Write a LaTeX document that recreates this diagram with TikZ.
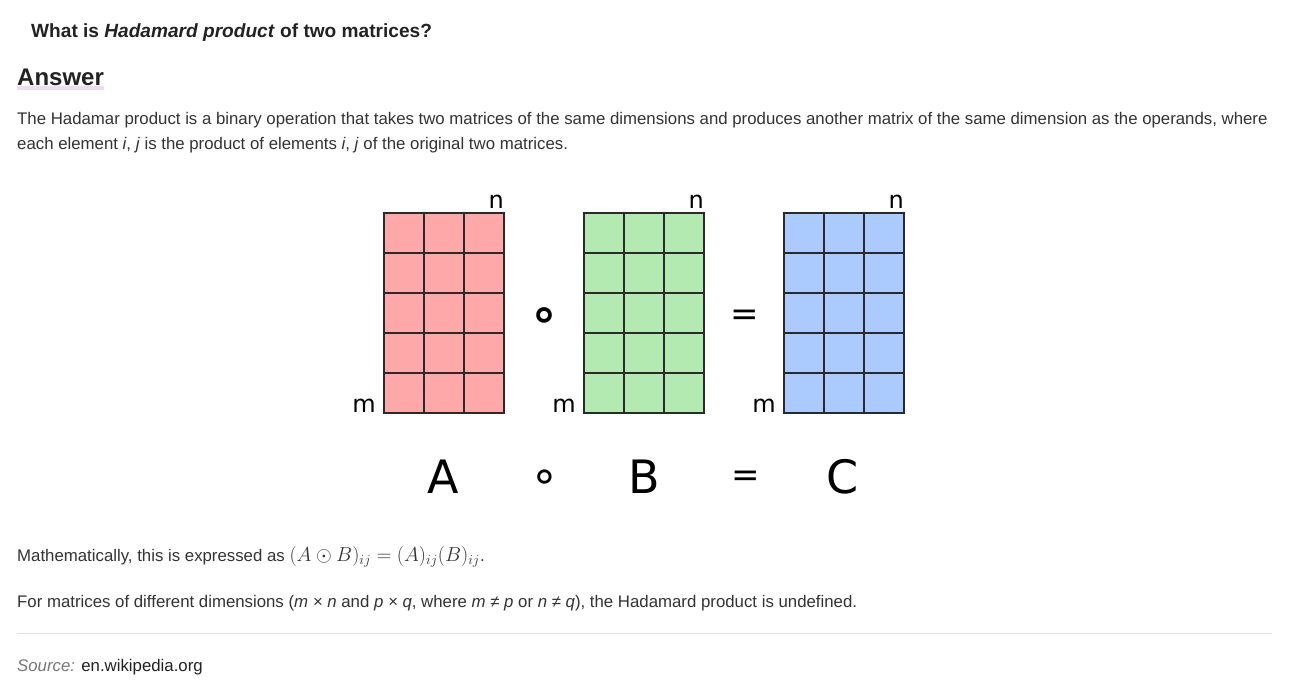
\documentclass[tikz,border=0pt]{standalone}
\usepackage{amssymb}
\usepackage[no-math]{fontspec}
\setmainfont{Liberation Sans}
\newfontfamily\dejavu{DejaVu Sans}
\usetikzlibrary{positioning}

\definecolor{ink}{HTML}{222222}
\definecolor{bodyink}{HTML}{333333}
\definecolor{srcgray}{HTML}{777777}
\definecolor{matA}{HTML}{FFA8A9}
\definecolor{matB}{HTML}{B2EAB1}
\definecolor{matC}{HTML}{ABCBFE}
\definecolor{gridline}{HTML}{2A2A2A}
\definecolor{rulegray}{HTML}{E4E4E4}
\definecolor{answerbar}{HTML}{EEDDEF}

\tikzset{
  bodytext/.style={anchor=base west, inner sep=0pt, text=bodyink, font=\fontsize{16.8}{20}\selectfont},
  dimlabel/.style={inner sep=0pt, text=black, font=\dejavu\fontsize{24}{24}\selectfont},
  bigsym/.style={anchor=base, inner sep=0pt, text=black, font=\dejavu\fontsize{46}{46}\selectfont},
  opsym/.style={inner sep=0pt, text=black, font=\dejavu\fontsize{34}{34}\selectfont},
}

\begin{document}
\begin{tikzpicture}[x=1pt,y=-1pt]
	\useasboundingbox[fill=white] (0,0) rectangle (1304,694);

	% Question and heading
	\node[anchor=base west, inner sep=0pt, text=ink, font=\bfseries\fontsize{19.1}{22}\selectfont] (question) at (31,37) {What is \textit{Hadamard product} of two matrices?};
	\fill[answerbar] (17,86) rectangle (104,90);
	\node[anchor=base west, inner sep=0pt, text=ink, font=\bfseries\fontsize{24}{28}\selectfont] (answer) at (17,85) {Answer};

	% Definition text
	\node[bodytext] (defone) at (17,124) {The Hadamar product is a binary operation that takes two matrices of the same dimensions and produces another matrix of the same dimension as the operands, where};
	\node[bodytext] (deftwo) at (17,149) {each element \textit{i}, \textit{j} is the product of elements \textit{i}, \textit{j} of the original two matrices.};

	% Matrices A, B, C (5 rows, 3 columns)
	\foreach \mat/\x/\col in {A/384/matA,B/584/matB,C/784/matC}{
		\filldraw[fill=\col, draw=gridline, line width=1.2pt] (\x,213) rectangle ++(120,200);
		\foreach \c in {1,2}
			\draw[gridline, line width=1.2pt] (\x+40*\c,213) -- ++(0,200);
		\foreach \r in {1,...,4}
			\draw[gridline, line width=1.2pt] (\x,213+40*\r) -- ++(120,0);
		\node[dimlabel, anchor=base east] (n\mat) at (\x+120,208) {n};
		\node[dimlabel, anchor=base east] (m\mat) at (\x-8,412) {m};
	}

	% Operators between the matrices
	\node[opsym, font=\dejavu\bfseries\fontsize{48}{48}\selectfont] (opring) at (545,319) {∘};
	\node[opsym] (opeq) at (745,318) {=};

	% Names under the matrices
	\node[bigsym] (nameA) at (443,493) {A};
	\node[bigsym] (namering) at (545,491) {∘};
	\node[bigsym] (nameB) at (644,493) {B};
	\node[opsym] (nameeq) at (746,479) {=};
	\node[bigsym] (nameC) at (843,493) {C};

	% Formula and remark
	\node[bodytext] (formula) at (17,561) {Mathematically, this is expressed as \scalebox{1.17}{$(A\odot B)_{ij}=(A)_{ij}(B)_{ij}$}.};
	\node[bodytext] (remark) at (17,607) {For matrices of different dimensions (\textit{m × n} and \textit{p × q}, where \textit{m ≠ p} or \textit{n ≠ q}), the Hadamard product is undefined.};

	% Source
	\draw[rulegray, line width=1pt] (17,633) -- (1272,633);
	\node[bodytext] (source) at (17,671) {\textcolor{srcgray}{\textit{Source:}} \textcolor{ink}{en.wikipedia.org}};
\end{tikzpicture}
\end{document}
